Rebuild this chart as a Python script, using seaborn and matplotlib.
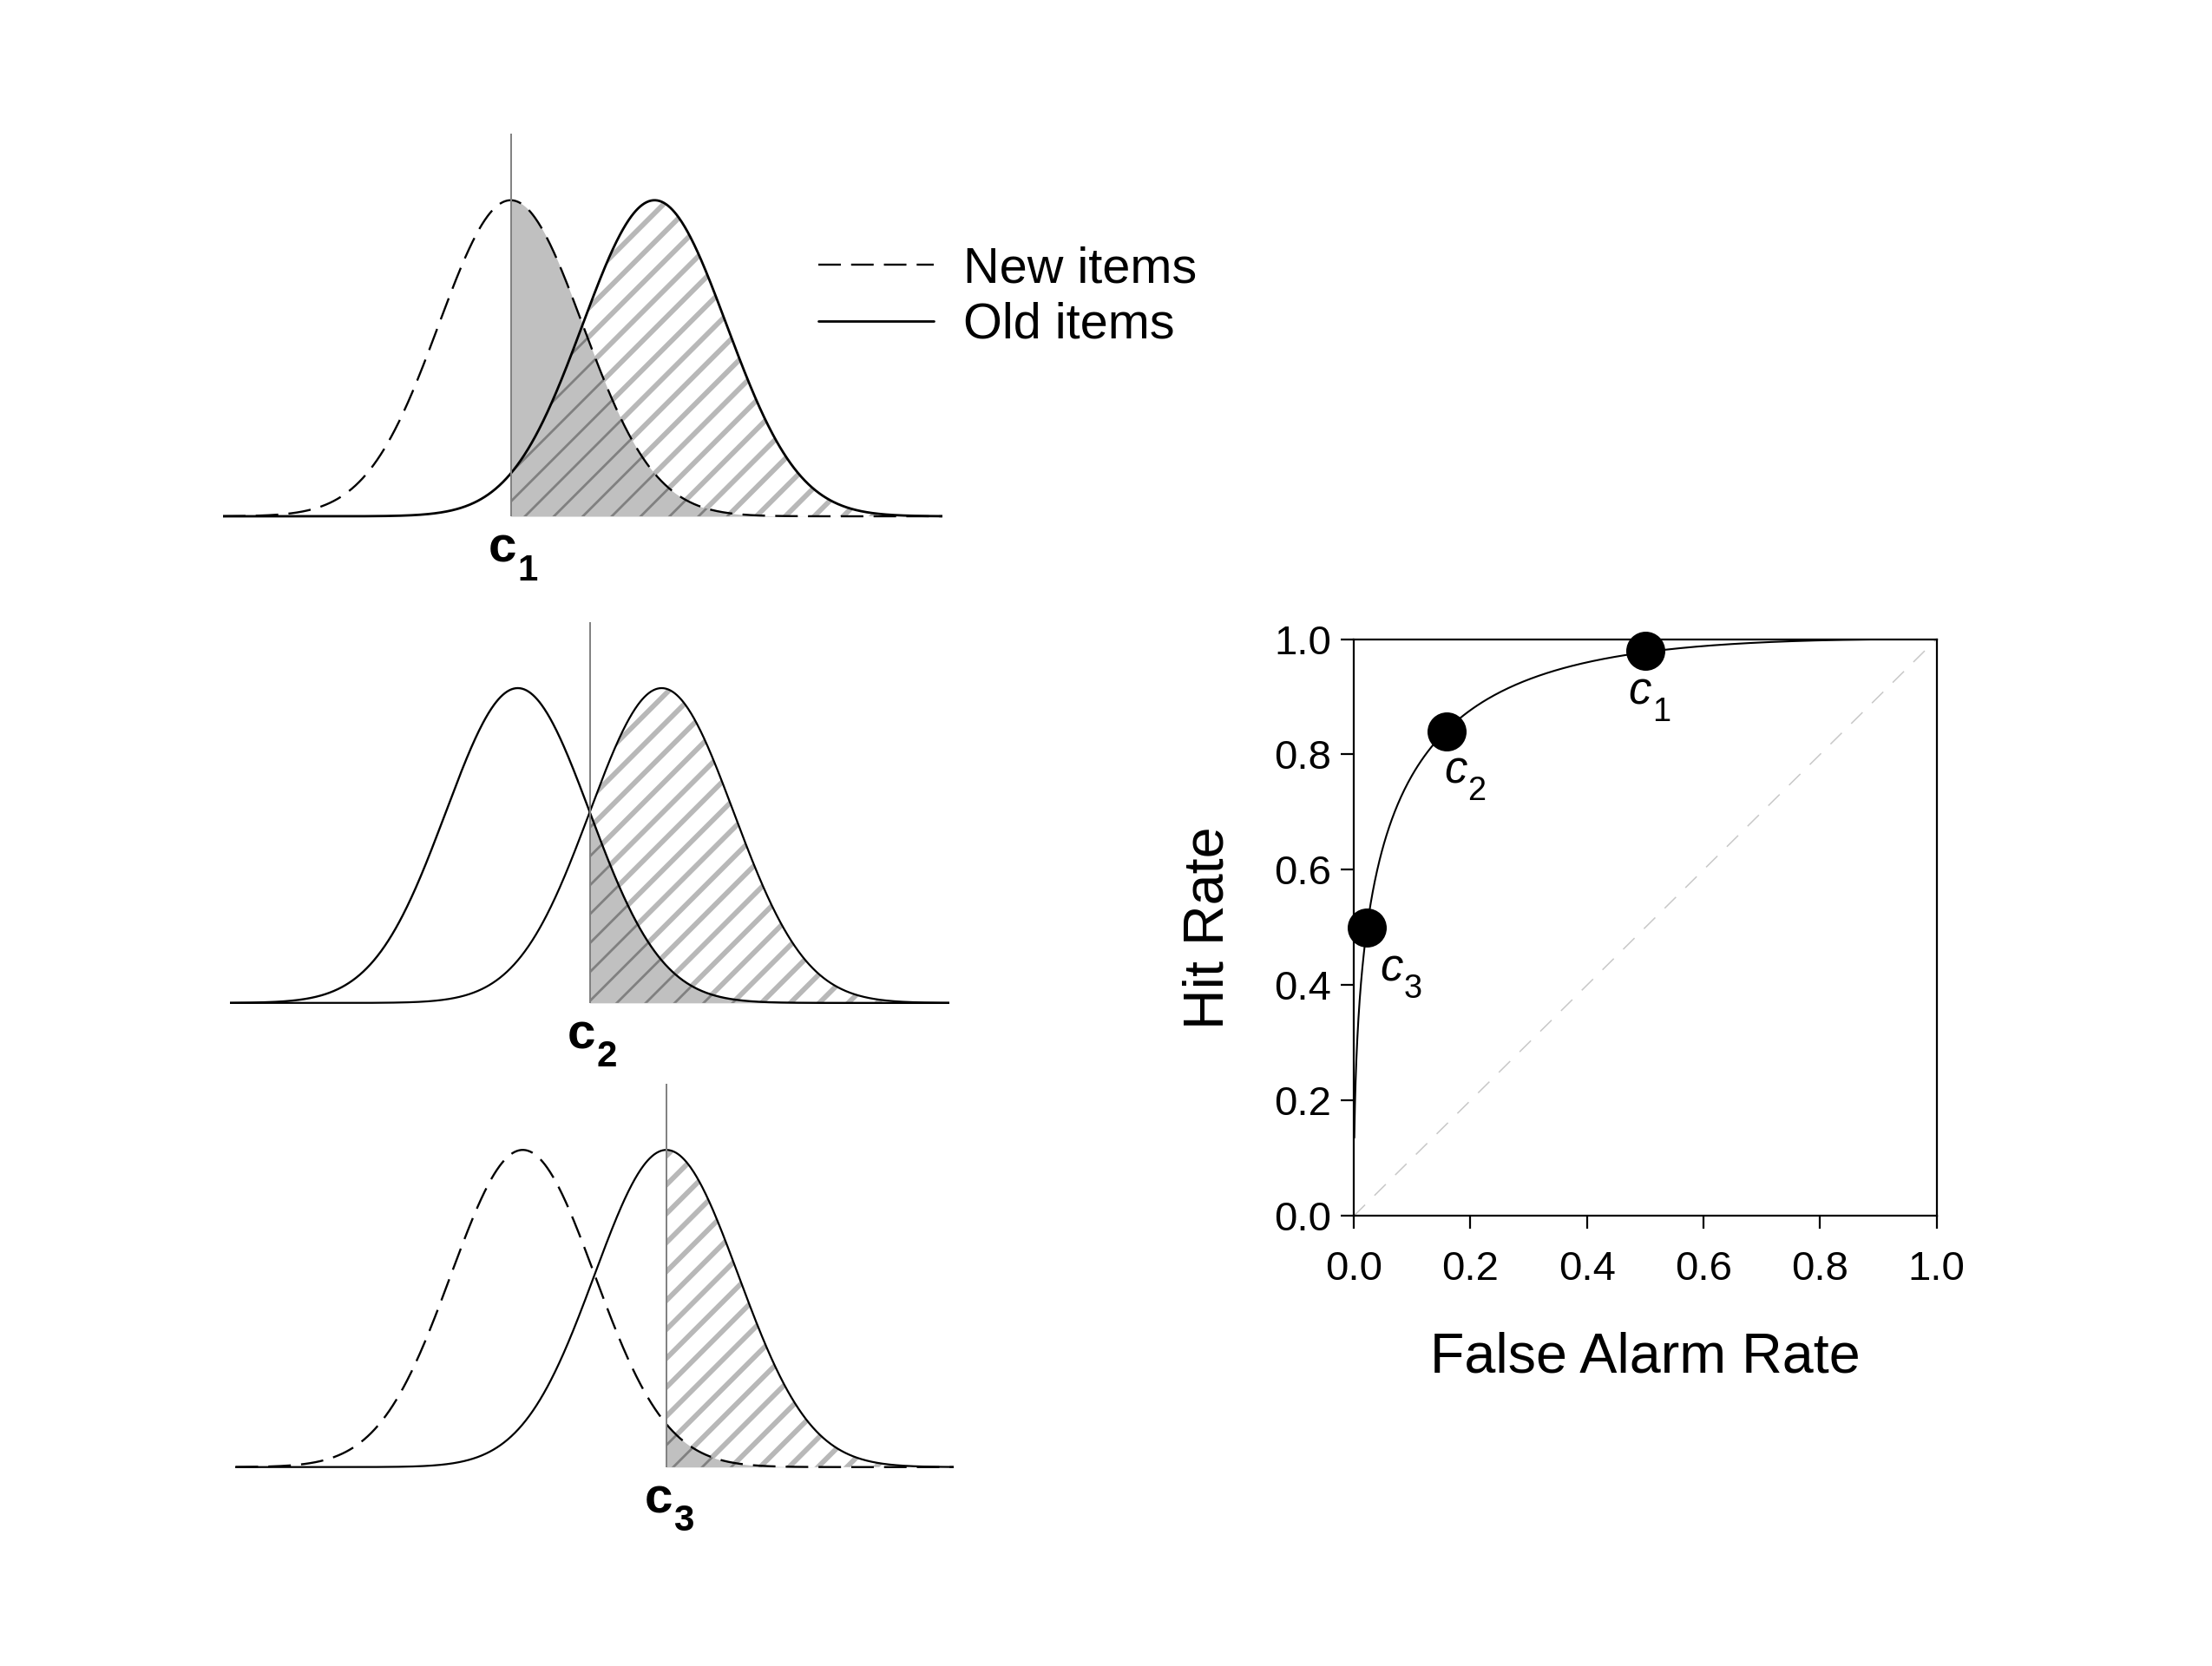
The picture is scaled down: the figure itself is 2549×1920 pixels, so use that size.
import math
import numpy as np
import pandas as pd
import matplotlib
matplotlib.use("Agg")
import matplotlib.pyplot as plt
import seaborn as sns

# equal-variance signal detection model (new items ~ N(0,1))
d_prime = 2.0
criteria = [0.0, 1.0, 2.0]          # c1, c2, c3
crit_names = ["1", "2", "3"]
new_is_dashed = [True, False, True]

# ROC operating points
fa_rate = [0.50, 0.16, 0.023]
hit_rate = [0.98, 0.84, 0.50]
roc_ticks = [0.0, 0.2, 0.4, 0.6, 0.8, 1.0]
roc_tick_labels = ["0.0", "0.2", "0.4", "0.6", "0.8", "1.0"]
legend_labels = ["New items", "Old items"]

sns.set_style("white")
plt.rcParams["font.family"] = ["Liberation Sans", "DejaVu Sans"]
for k in ["text.color", "axes.labelcolor", "xtick.color", "ytick.color"]:
    plt.rcParams[k] = "black"

fig = plt.figure(figsize=(25.49, 19.2), dpi=100)

x = np.linspace(-4, 6, 1001)
new_pdf = np.exp(-x ** 2 / 2) / math.sqrt(2 * math.pi)
old_pdf = np.exp(-(x - d_prime) ** 2 / 2) / math.sqrt(2 * math.pi)
y_lo, y_hi = -0.004, 0.4826

# panel placement: (left, right, baseline, top) as figure fractions
panels = [(0.1008, 0.4260, 0.6901, 0.9196),
          (0.1040, 0.4292, 0.3980, 0.6266),
          (0.1065, 0.4311, 0.1194, 0.3497)]

dash = (0, (11, 5))


def add_c(ax, xv, yv, n, dx, dy_c, dy_s, size, weight, italic):
    style = "italic" if italic else "normal"
    ax.annotate("c", (xv, yv), xytext=(dx, dy_c), textcoords="offset points",
                ha="right", va="baseline", fontsize=size, fontweight=weight,
                fontstyle=style, annotation_clip=False)
    ax.annotate(n, (xv, yv), xytext=(dx + 1, dy_s), textcoords="offset points",
                ha="left", va="baseline", fontsize=size * 0.72, fontweight=weight,
                annotation_clip=False)


legend_ax = None
for i, (l, r, base, top) in enumerate(panels):
    h = (top - base) * (y_hi - y_lo) / y_hi
    b = base + y_lo / (y_hi - y_lo) * h
    ax = fig.add_axes([l, b, r - l, h])
    c = criteria[i]
    m = x >= c
    xr = x[m]

    plt.rcParams["hatch.linewidth"] = 4.2
    f1 = ax.fill_between(xr, 0, old_pdf[m], facecolor="white", hatch="/",
                         edgecolor="#b8b8b8", linewidth=0, zorder=1)
    ax.fill_between(xr, 0, new_pdf[m], facecolor="#c0c0c0", linewidth=0, zorder=2)
    plt.rcParams["hatch.linewidth"] = 2.0
    f3 = ax.fill_between(xr, 0, np.minimum(new_pdf[m], old_pdf[m]), facecolor="none",
                         hatch="/", edgecolor="#808080", linewidth=0, zorder=3)
    try:
        f1.set_hatch_linewidth(4.2)
        f3.set_hatch_linewidth(2.0)
    except AttributeError:
        pass

    ls_new = dash if new_is_dashed[i] else "-"
    sns.lineplot(x=x, y=new_pdf, ax=ax, color="black", linewidth=1.7,
                 linestyle=ls_new, sort=False, zorder=5,
                 label=legend_labels[0] if i == 0 else None)
    sns.lineplot(x=x, y=old_pdf, ax=ax, color="black", linewidth=2.0 if i == 0 else 1.6,
                 sort=False, zorder=5,
                 label=legend_labels[1] if i == 0 else None)
    ax.vlines(c, 0, y_hi, color="#808080", linewidth=1.4, zorder=6)

    ax.set_xlim(-4, 6)
    ax.set_ylim(y_lo, y_hi)
    ax.set_axis_off()
    if ax.get_legend() is not None:
        ax.get_legend().remove()
    if i == 0:
        legend_ax = ax

    add_c(ax, c, 0, crit_names[i], 5, -38, -53, 42, "bold", False)

# legend
handles, labels = legend_ax.get_legend_handles_labels()
fig.legend(handles, labels, loc="center left", bbox_to_anchor=(0.370, 0.8215),
           frameon=False, fontsize=41.5, handlelength=2.3, handletextpad=0.6,
           labelspacing=0.18, borderpad=0, borderaxespad=0)

# ROC panel
rx = fig.add_axes([0.612, 0.2701, 0.2635, 0.3463])
cgrid = np.linspace(-4.5, 3.1, 800)
phi = np.vectorize(lambda z: 0.5 * (1 + math.erf(z / math.sqrt(2))))
roc = pd.DataFrame({"fa": 1 - phi(cgrid), "hit": 1 - phi(cgrid - d_prime)})

sns.lineplot(x=roc_ticks, y=roc_ticks, ax=rx, color="#c8c8c8", linewidth=1.1,
             linestyle=(0, (12, 10)), sort=False, zorder=1)
sns.lineplot(data=roc, x="fa", y="hit", ax=rx, color="black", linewidth=1.5,
             sort=False, zorder=2)
sns.scatterplot(x=fa_rate, y=hit_rate, ax=rx, color="black", s=900,
                edgecolor="black", zorder=4, clip_on=False)

roc_offsets = [(-3, -62, -81), (13, -60, -79), (31, -62, -81)]
for fa, hit, n, (dx, dc, ds) in zip(fa_rate, hit_rate, crit_names, roc_offsets):
    add_c(rx, fa, hit, n, dx * 0.72 + 7, dc * 0.72, ds * 0.72, 38, "normal", True)

rx.set_xlim(0, 1)
rx.set_ylim(0, 1)
rx.set_xticks(roc_ticks)
rx.set_xticklabels(roc_tick_labels)
rx.set_yticks(roc_ticks)
rx.set_yticklabels(roc_tick_labels)
rx.tick_params(bottom=True, left=True, direction="out", length=10.8, width=1.6,
               labelsize=34, colors="black")
rx.tick_params(axis="x", pad=18)
rx.tick_params(axis="y", pad=8)
for sp in rx.spines.values():
    sp.set_color("black")
    sp.set_linewidth(1.6)
rx.set_xlabel("False Alarm Rate", fontsize=46.5)
rx.set_ylabel("Hit Rate", fontsize=46.5)
rx.xaxis.set_label_coords(0.5, -0.245)
rx.xaxis.label.set_va("center")
rx.yaxis.set_label_coords(-0.25, 0.5)
rx.yaxis.label.set_va("center")

fig.savefig("out.png", dpi=100, facecolor="white")
